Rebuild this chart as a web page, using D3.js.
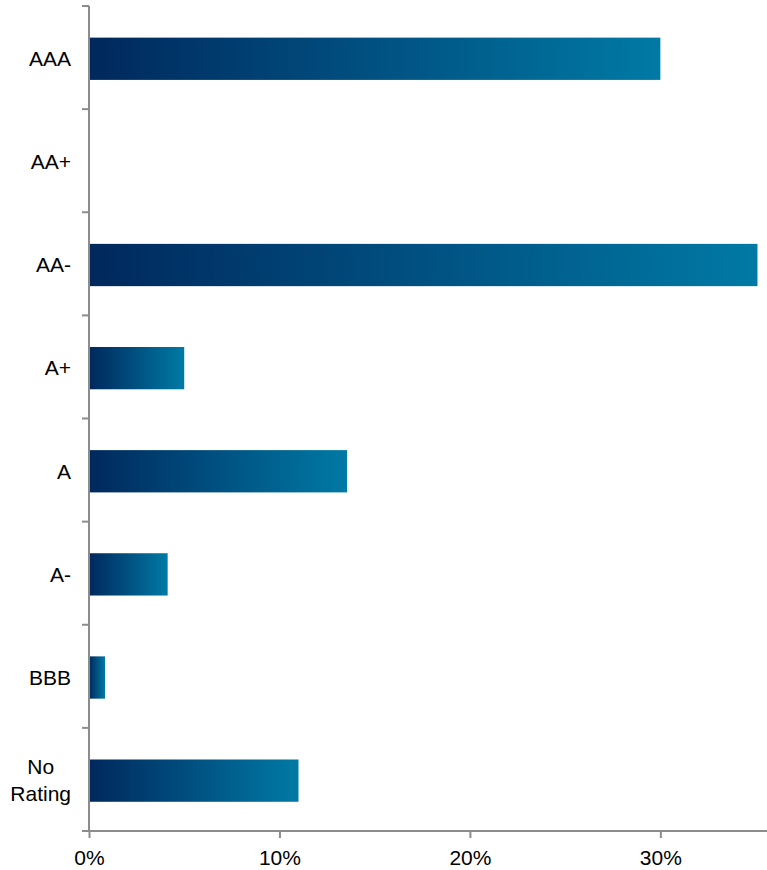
<!DOCTYPE html>
<html>
<head>
<meta charset="utf-8">
<script src="https://cdn.jsdelivr.net/npm/d3@7"></script>
<style>
  body { margin: 0; background: #fff; }
  text { font-family: "Liberation Sans", Arial, sans-serif; }
</style>
</head>
<body>
<div id="chart"></div>
<script>
// Rating categories (top to bottom) and their share of the portfolio
const ratings = ["AAA", "AA+", "AA-", "A+", "A", "A-", "BBB", "No Rating"];
const shares = [0.300, 0, 0.351, 0.050, 0.1355, 0.0413, 0.0084, 0.110];
const xTicks = [0, 0.1, 0.2, 0.3];

const W = 767, H = 870;
const margin = { top: 6, right: 0, bottom: 39, left: 89 };

const svg = d3.select("#chart")
  .append("svg")
  .attr("width", W)
  .attr("height", H);

const defs = svg.append("defs");
const grad = defs.append("linearGradient")
  .attr("id", "barGrad")
  .attr("x1", "0%").attr("x2", "100%")
  .attr("y1", "0%").attr("y2", "0%");
grad.append("stop").attr("offset", "0%").attr("stop-color", "#00285d");
grad.append("stop").attr("offset", "100%").attr("stop-color", "#007aa5");

const x = d3.scaleLinear()
  .domain([0, 0.356])
  .range([margin.left, W - margin.right]);

// bars sit ~1px below the centre of each category slot
const y = d3.scaleBand()
  .domain(ratings)
  .range([margin.top + 1.2, H - margin.bottom + 1.2])
  .paddingInner(0.59)
  .paddingOuter(0.295);

const data = ratings.map((r, i) => ({ rating: r, value: shares[i] }));

// bars
svg.append("g")
  .selectAll("rect")
  .data(data.filter(d => d.value > 0))
  .join("rect")
  .attr("x", x(0))
  .attr("y", d => y(d.rating))
  .attr("width", d => x(d.value) - x(0))
  .attr("height", y.bandwidth())
  .attr("fill", "url(#barGrad)");

const axisColor = "#8c8c8c";

// y axis: line with ticks at category boundaries
const yAxis = svg.append("g");
yAxis.append("line")
  .attr("x1", margin.left).attr("x2", margin.left)
  .attr("y1", margin.top).attr("y2", H - margin.bottom)
  .attr("stroke", axisColor).attr("stroke-width", 2);

const boundaries = d3.range(ratings.length + 1).map(i => margin.top + i * (H - margin.top - margin.bottom) / ratings.length);
yAxis.selectAll("line.tick")
  .data(boundaries)
  .join("line")
  .attr("class", "tick")
  .attr("x1", margin.left - 7).attr("x2", margin.left)
  .attr("y1", d => d).attr("y2", d => d)
  .attr("stroke", axisColor).attr("stroke-width", 2);

// category labels
const labelRight = 71;
yAxis.selectAll("text")
  .data(ratings)
  .join("text")
  .attr("font-size", 21)
  .attr("fill", "#000")
  .each(function(d) {
    const t = d3.select(this);
    const lines = d.split(" ");
    const cy = y(d) + y.bandwidth() / 2;
    if (lines.length === 1) {
      t.attr("text-anchor", "end")
        .attr("x", labelRight)
        .attr("y", cy)
        .attr("dy", "0.35em")
        .text(d);
    } else {
      t.attr("text-anchor", "middle");
      const lh = 27;
      lines.forEach((ln, k) => {
        t.append("tspan")
          .attr("x", 0)
          .attr("y", cy + (k - (lines.length - 1) / 2) * lh)
          .attr("dy", "0.35em")
          .text(ln);
      });
      // centre on the widest line, which is right-aligned to labelRight
      let maxW = 0;
      t.selectAll("tspan").each(function() { maxW = Math.max(maxW, this.getComputedTextLength()); });
      t.selectAll("tspan").attr("x", labelRight - maxW / 2);
    }
  });

// x axis
const xAxis = svg.append("g")
  .attr("transform", `translate(0,${H - margin.bottom})`)
  .call(d3.axisBottom(x)
    .tickValues(xTicks)
    .tickFormat(d3.format(".0%"))
    .tickSize(7)
    .tickSizeOuter(0)
    .tickPadding(12));

xAxis.select(".domain")
  .attr("stroke", axisColor)
  .attr("stroke-width", 2)
  .attr("d", `M${margin.left - 7},0H${W}`);
xAxis.selectAll(".tick line")
  .attr("stroke", axisColor)
  .attr("stroke-width", 2);
xAxis.selectAll(".tick text")
  .attr("font-size", 21)
  .attr("fill", "#000")
  .style("font-family", '"Liberation Sans", Arial, sans-serif');
</script>
</body>
</html>
